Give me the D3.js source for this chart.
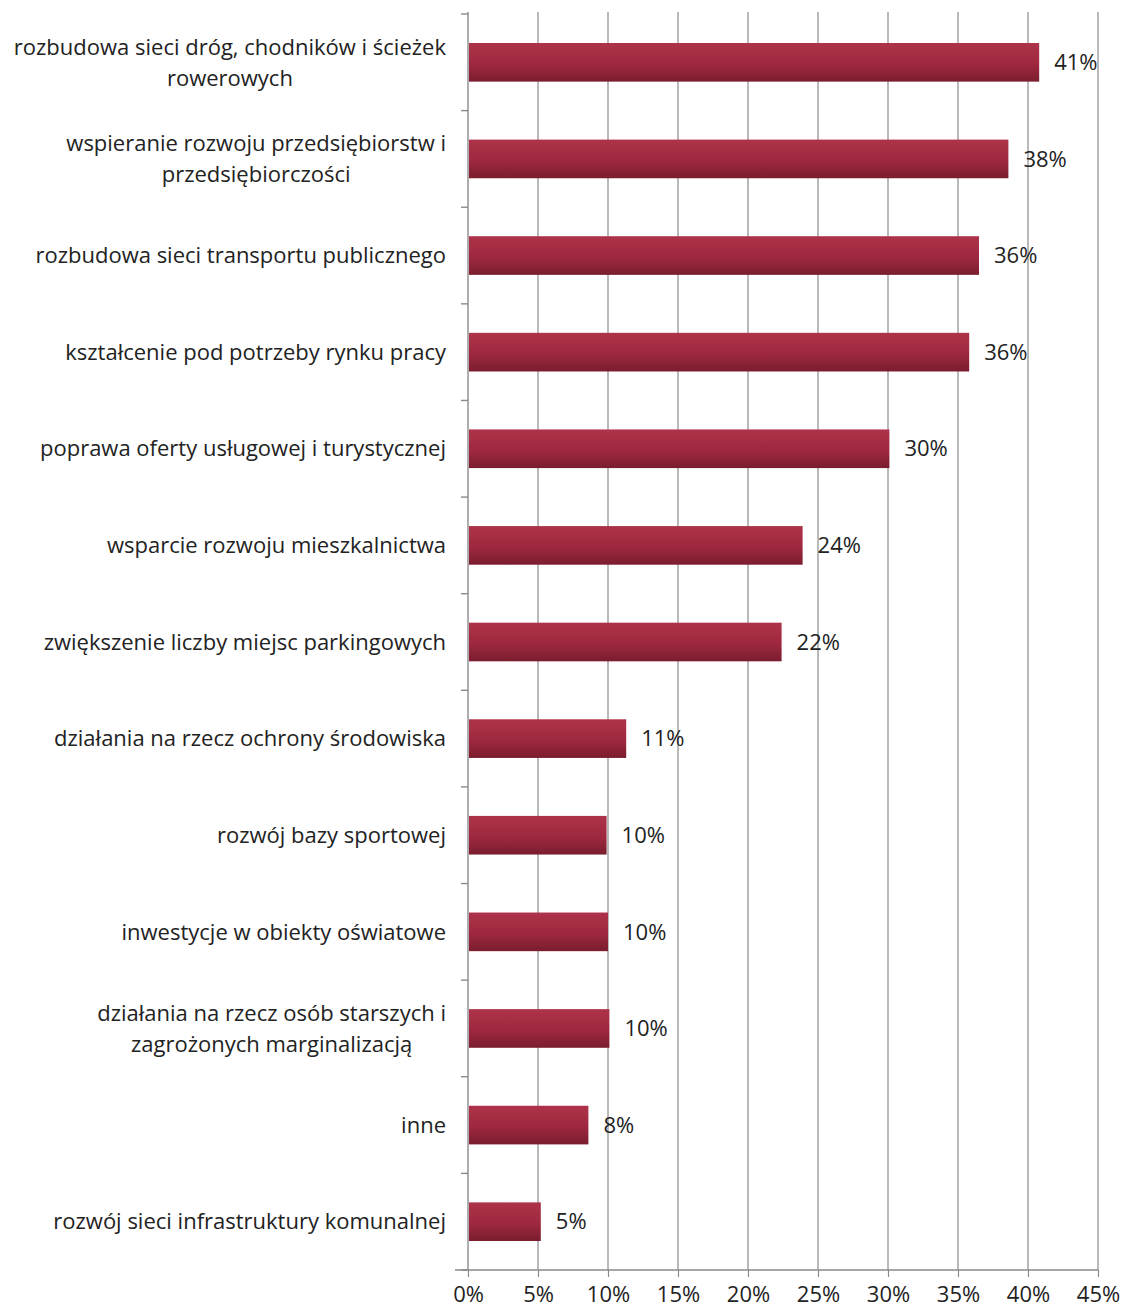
<!DOCTYPE html>
<html>
<head>
<meta charset="utf-8">
<script src="https://cdn.jsdelivr.net/npm/d3@7"></script>
<style>
  body { margin: 0; background: #fff; }
  text { font-family: "Open Sans", "Liberation Sans", sans-serif; fill: #222; }
</style>
</head>
<body>
<div id="chart"></div>
<script>
var categories = [
  ["rozbudowa sieci dróg, chodników i ścieżek", "rowerowych"],
  ["wspieranie rozwoju przedsiębiorstw i", "przedsiębiorczości"],
  ["rozbudowa sieci transportu publicznego"],
  ["kształcenie pod potrzeby rynku pracy"],
  ["poprawa oferty usługowej i turystycznej"],
  ["wsparcie rozwoju mieszkalnictwa"],
  ["zwiększenie liczby miejsc parkingowych"],
  ["działania na rzecz ochrony środowiska"],
  ["rozwój bazy sportowej"],
  ["inwestycje w obiekty oświatowe"],
  ["działania na rzecz osób starszych i", "zagrożonych marginalizacją"],
  ["inne"],
  ["rozwój sieci infrastruktury komunalnej"]
];
var values = [40.8, 38.6, 36.5, 35.8, 30.1, 23.9, 22.4, 11.3, 9.9, 10.0, 10.1, 8.6, 5.2];
var valueLabels = ["41%", "38%", "36%", "36%", "30%", "24%", "22%", "11%", "10%", "10%", "10%", "8%", "5%"];
var ticks = [0, 5, 10, 15, 20, 25, 30, 35, 40, 45];

var barChart = function(chart) {
  var width = 1124, height = 1311;
  var m = { left: 468, right: 1098, top: 14, bottom: 1270 };
  var fontSize = '22px';

  var svg = d3.select(chart).append('svg')
    .attr('width', width)
    .attr('height', height);

  var grad = svg.append('defs').append('linearGradient')
    .attr('id', 'barGrad')
    .attr('x1', 0).attr('y1', 0).attr('x2', 0).attr('y2', 1);
  grad.append('stop').attr('offset', '0%').attr('stop-color', '#ad334a');
  grad.append('stop').attr('offset', '55%').attr('stop-color', '#9e283f');
  grad.append('stop').attr('offset', '100%').attr('stop-color', '#7a1d2e');

  var x = d3.scaleLinear().domain([0, 45]).range([m.left, m.right]);
  var y = d3.scaleBand()
    .domain(d3.range(categories.length))
    .range([m.top, m.bottom])
    .padding(0);

  var barH = y.bandwidth() * 0.4;

  // gridlines
  svg.append('g').selectAll('line')
    .data(ticks.slice(1))
    .enter().append('line')
    .attr('x1', function(d) { return x(d); })
    .attr('x2', function(d) { return x(d); })
    .attr('y1', m.top - 2)
    .attr('y2', m.bottom)
    .attr('stroke', '#8a8a8a')
    .attr('stroke-width', 1.2);

  // left axis with ticks between categories
  var yAxis = svg.append('g');
  yAxis.append('line')
    .attr('x1', m.left).attr('x2', m.left)
    .attr('y1', m.top - 2).attr('y2', m.bottom)
    .attr('stroke', '#8a8a8a').attr('stroke-width', 1.4);
  yAxis.selectAll('.ytick')
    .data(d3.range(categories.length + 1))
    .enter().append('line')
    .attr('x1', m.left - 7).attr('x2', m.left)
    .attr('y1', function(i) { return m.top + i * y.step(); })
    .attr('y2', function(i) { return m.top + i * y.step(); })
    .attr('stroke', '#8a8a8a').attr('stroke-width', 1.4);

  // bottom axis
  var xAxis = svg.append('g')
    .attr('transform', 'translate(0,' + m.bottom + ')')
    .call(d3.axisBottom(x).tickValues(ticks).tickSize(7).tickFormat(function(d) { return d + '%'; }));
  xAxis.select('.domain').remove();
  xAxis.append('line')
    .attr('x1', m.left - 13).attr('x2', m.right)
    .attr('stroke', '#8a8a8a').attr('stroke-width', 1.6);
  xAxis.selectAll('.tick line').attr('stroke', '#8a8a8a').attr('stroke-width', 1.2);
  xAxis.selectAll('.tick text')
    .attr('y', 16)
    .attr('dy', '0.71em')
    .style('font-size', fontSize)
    .style('font-family', '"Open Sans", sans-serif')
    .attr('fill', '#222');

  // bars
  svg.append('g').selectAll('rect')
    .data(values)
    .enter().append('rect')
    .attr('x', x(0) + 1)
    .attr('y', function(d, i) { return y(i) + y.bandwidth() / 2 - barH / 2; })
    .attr('width', function(d) { return x(d) - x(0) - 1; })
    .attr('height', barH)
    .attr('fill', 'url(#barGrad)');

  // value labels
  svg.append('g').selectAll('text')
    .data(values)
    .enter().append('text')
    .attr('x', function(d) { return x(d) + 15; })
    .attr('y', function(d, i) { return y(i) + y.bandwidth() / 2; })
    .attr('dy', '0.35em')
    .style('font-size', fontSize)
    .text(function(d, i) { return valueLabels[i]; });

  // category labels, lines centred on each other, block right aligned
  var lineH = 31;
  svg.append('g').selectAll('text')
    .data(categories)
    .enter().append('text')
    .style('font-size', fontSize)
    .attr('text-anchor', 'middle')
    .each(function(lines, i) {
      var t = d3.select(this);
      var cy = y(i) + y.bandwidth() / 2;
      lines.forEach(function(line, j) {
        t.append('tspan')
          .attr('y', cy + (j - (lines.length - 1) / 2) * lineH)
          .attr('dy', '0.35em')
          .text(line);
      });
      var maxW = 0;
      t.selectAll('tspan').each(function() {
        maxW = Math.max(maxW, this.getComputedTextLength());
      });
      t.selectAll('tspan').attr('x', m.left - 22 - maxW / 2);
    });
};

barChart('#chart');
</script>
</body>
</html>
